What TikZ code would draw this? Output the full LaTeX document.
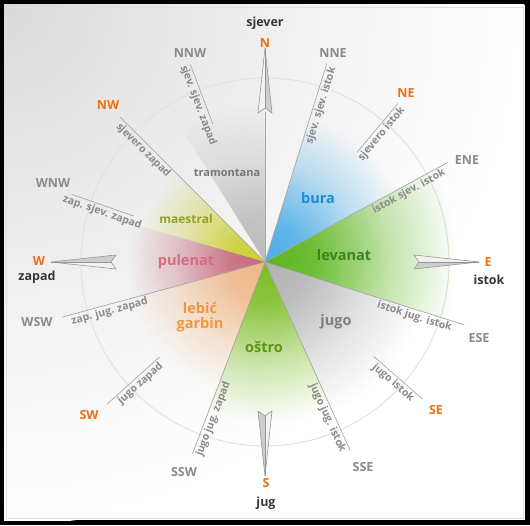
\documentclass[tikz,border=0pt]{standalone}
\usepackage{fontspec}
\setmainfont{Open Sans}
\definecolor{orng}{RGB}{236,112,16}
\definecolor{lgray}{RGB}{138,138,138}
\definecolor{dgray}{RGB}{55,55,55}
\definecolor{linegray}{RGB}{168,168,168}
\definecolor{circgray}{RGB}{226,226,226}
\definecolor{arrowline}{RGB}{150,150,150}
\definecolor{arrowlight}{RGB}{242,242,242}
\definecolor{arrowdark}{RGB}{205,205,205}
% wind text colours
\definecolor{tbura}{RGB}{28,140,212}
\definecolor{tlev}{RGB}{60,130,30}
\definecolor{tjug}{RGB}{128,128,128}
\definecolor{tost}{RGB}{95,150,20}
\definecolor{tleb}{RGB}{240,150,60}
\definecolor{tpul}{RGB}{212,108,128}
\definecolor{tmaes}{RGB}{150,160,30}
\definecolor{ttram}{RGB}{118,118,118}
% wedge colours
\definecolor{wbura}{RGB}{80,180,240}
\definecolor{wlev}{RGB}{95,188,30}
\definecolor{wjug}{RGB}{185,185,185}
\definecolor{wost}{RGB}{130,196,40}
\definecolor{wleb}{RGB}{248,190,140}
\definecolor{wpul}{RGB}{205,110,130}
\definecolor{wmaes}{RGB}{212,216,50}
\definecolor{wtram}{RGB}{195,195,195}
\colorlet{wcol}{white}
\pgfdeclareradialshading[wcol]{wfade}{\pgfpointorigin}{color(0bp)=(wcol);color(6bp)=(wcol!88!white);color(15bp)=(wcol!35!white);color(23bp)=(white);color(50bp)=(white)}
\pgfdeclareradialshading{bgfade}{\pgfpointorigin}{color(0bp)=(black!15);color(8bp)=(black!9);color(15bp)=(black!5);color(21bp)=(black!2);color(25bp)=(white);color(50bp)=(white)}
\newcommand{\windwedge}[4]{%
  \colorlet{wcol}{#3}%
  \begin{scope}
    \clip (0,0) -- (#1:260) arc[start angle=#1,end angle=#2,radius=260] -- cycle;
    \shade[shading=wfade, blend mode=multiply] (0,0) circle (#4);
  \end{scope}}
\newcommand{\cdart}[1]{%
  \begin{scope}[rotate=#1]
    \fill[arrowlight] (149,7) -- (214,0) -- (154,0) -- cycle;
    \fill[arrowdark] (149,-7) -- (214,0) -- (154,0) -- cycle;
    \draw[arrowline,line width=0.6,line join=round] (149,7) -- (214,0) -- (149,-7) -- (154,0) -- cycle;
    \draw[arrowline,line width=0.4] (154,0) -- (214,0);
  \end{scope}}
\tikzset{
  cmp/.style={font=\bfseries\fontsize{12.5}{12.5}\selectfont, inner sep=0pt},
  cor/.style={cmp, text=orng},
  cgr/.style={cmp, text=lgray},
  cdk/.style={cmp, text=dgray},
  wind/.style={font=\bfseries\fontsize{14.5}{15}\selectfont, inner sep=0pt, align=center},
  along/.style={font=\bfseries\fontsize{10.5}{10.5}\selectfont, text=lgray, inner sep=1.8pt, anchor=north},
  rl/.style={draw=linegray, line width=0.7pt}
}
\begin{document}
\begin{tikzpicture}[x=1pt,y=1pt]
\useasboundingbox (0,0) rectangle (530,525);
% frame and background
\fill[black] (0,0) rectangle (530,525);
\fill[white] (4,5) rectangle (525,520);
\begin{scope}
  \clip (4,5) rectangle (525,520);
  \shade[shading=bgfade] (4,520) circle (520);
\end{scope}
\draw[white!88!black, line width=0.8pt] (6,7) rectangle (523,518);

\begin{scope}[shift={(265,263)}]
  \draw[circgray, line width=1pt] (0,0) circle (184);
  % wind sectors
  \windwedge{90}{122}{wtram}{175}
  \windwedge{135}{164}{wmaes}{140}
  \windwedge{164}{195.2}{wpul}{150}
  \windwedge{195.2}{249.3}{wleb}{150}
  \windwedge{249.3}{294.3}{wost}{175}
  \windwedge{294.3}{342.5}{wjug}{180}
  \windwedge{-17.5}{28.6}{wlev}{210}
  \windwedge{28.6}{72.7}{wbura}{165}
  % radial lines
  \coordinate (c0) at (0,0);
  \draw[rl] (c0) -- (72.7:208);
  \draw[rl] (c0) -- (28.6:208);
  \draw[rl] (c0) -- (-17.5:209);
  \draw[rl] (c0) -- (-65.7:207);
  \draw[rl] (c0) -- (-110.7:205);
  \draw[rl] (c0) -- (195.2:210);
  \draw[rl] (c0) -- (135:205);
  \draw[rl] (c0) -- (90:150);
  % short segments
  \draw[rl] (110.7:148) -- (110.7:211);
  \draw[rl] (50:143) -- (50:207);
  \draw[rl] (-41:144) -- (-41:209);
  \draw[rl] (222:142) -- (222:212);
  \draw[rl] (160.7:139) -- (160.7:205);
  % compass darts
  \cdart{90}
  \cdart{0}
  \cdart{-90}
  \cdart{180}
  % labels along lines
  \node[along, rotate=-69.3] (lnnw) at (110.7:170) {sjev. sjev. zapad};
  \node[along, rotate=-45] (lnw) at (135:165) {sjevero zapad};
  \node[along, rotate=-19.3] (lwnw) at (160.7:170) {zap. sjev. zapad};
  \node[along, rotate=72.7] (lnne) at (72.7:166) {sjev. sjev. istok};
  \node[along, rotate=50] (lne) at (50:173) {sjevero istok};
  \node[along, rotate=28.6] (lene) at (28.6:160) {istok sjev. istok};
  \node[along, rotate=-17.5] (lese) at (-17.5:159) {istok jug. istok};
  \node[along, rotate=-41] (lse) at (-41:176) {jugo istok};
  \node[along, rotate=-65.7] (lsse) at (-65.7:168) {jugo jug. istok};
  \node[along, rotate=69.3] (lssw) at (-110.7:165) {jugo jug. zapad};
  \node[along, rotate=42] (lsw) at (222:174) {jugo zapad};
  \node[along, rotate=15.2] (lwsw) at (195.2:163) {zap. jug. zapad};
\end{scope}

% compass labels
\node[cdk] (sjever) at (265,502) {sjever};
\node[cor] (n) at (265,482) {N};
\node[cgr] (nne) at (333,472) {NNE};
\node[cor] (ne) at (406,432) {NE};
\node[cgr] (ene) at (467,365) {ENE};
\node[cor] (e) at (488,263) {E};
\node[cdk] (istok) at (489,245) {istok};
\node[cgr] (ese) at (479,187) {ESE};
\node[cor] (se) at (436,115) {SE};
\node[cgr] (sse) at (363,58) {SSE};
\node[cor] (s) at (266,42) {S};
\node[cdk] (jug) at (266,22) {jug};
\node[cgr] (ssw) at (184,53) {SSW};
\node[cor] (sw) at (89,110) {SW};
\node[cgr] (wsw) at (37,203) {WSW};
\node[cor] (w) at (39,264) {W};
\node[cdk] (zapad) at (37,248) {zapad};
\node[cgr] (wnw) at (53,342) {WNW};
\node[cor] (nw) at (108,420) {NW};
\node[cgr] (nnw) at (190,472) {NNW};

% wind names
\node[wind, font=\bfseries\fontsize{11}{11}\selectfont, text=ttram] (tram) at (227,352) {tramontana};
\node[wind, text=tbura] (bura) at (318,327) {bura};
\node[wind, font=\bfseries\fontsize{12}{12}\selectfont, text=tmaes] (maes) at (186,306) {maestral};
\node[wind, text=tlev] (lev) at (344,270) {levanat};
\node[wind, text=tpul] (pul) at (186,263) {pulenat};
\node[wind, text=tleb] (leb) at (200,208) {lebić\\garbin};
\node[wind, text=tjug] (jugo) at (336,203) {jugo};
\node[wind, text=tost] (ost) at (264,178) {oštro};
\end{tikzpicture}
\end{document}
